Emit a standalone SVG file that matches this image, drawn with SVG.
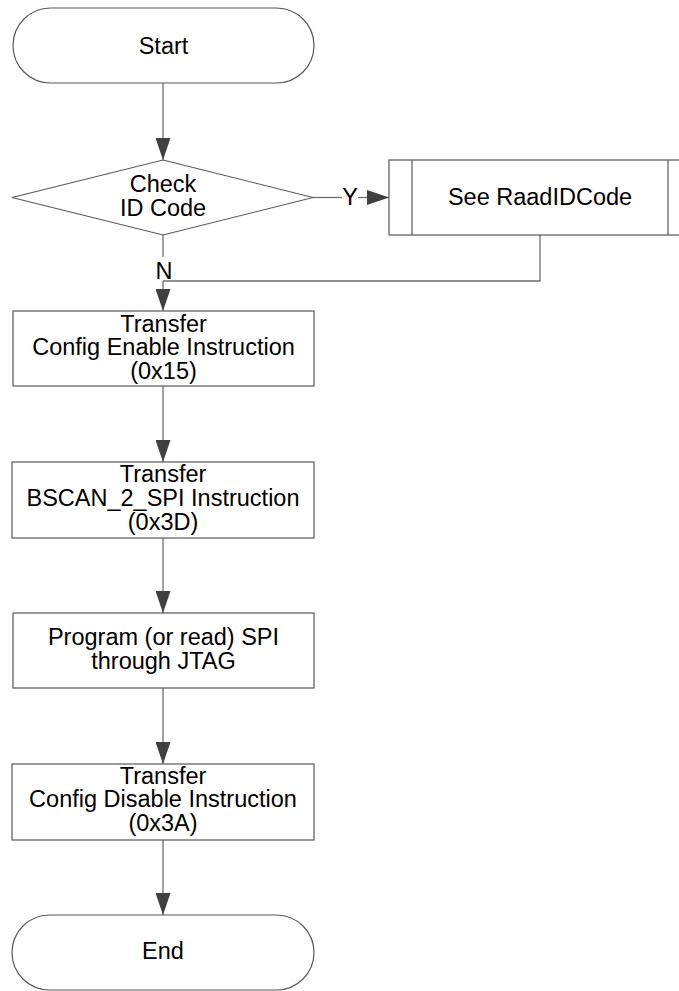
<svg xmlns="http://www.w3.org/2000/svg" width="679" height="991" viewBox="0 0 679 991">
<style>
.node{fill:#fff;stroke:#595959;stroke-width:1.2}
.conn{fill:none;stroke:#6e6e6e;stroke-width:1.3}
.t{font-family:"Liberation Sans",Arial,sans-serif;font-size:23.5px;fill:#000;text-anchor:middle}
</style>
<defs>
<marker id="ah" markerWidth="22" markerHeight="15" refX="22" refY="7.5" orient="auto" markerUnits="userSpaceOnUse">
<path d="M0,0 L22,7.5 L0,15 Z" fill="#404040"/>
</marker>
</defs>
<rect width="679" height="991" fill="#fff"/>
<g id="connectors">
<line class="conn" x1="163" y1="83" x2="163" y2="160" marker-end="url(#ah)"/>
<line class="conn" x1="313" y1="197.5" x2="342" y2="197.5"/>
<line class="conn" x1="358" y1="197.5" x2="389" y2="197.5" marker-end="url(#ah)"/>
<line class="conn" x1="163" y1="235" x2="163" y2="257"/>
<polyline class="conn" points="540,235 540,281 163,281"/>
<line class="conn" x1="163" y1="281" x2="163" y2="311" marker-end="url(#ah)"/>
<line class="conn" x1="163" y1="386" x2="163" y2="462" marker-end="url(#ah)"/>
<line class="conn" x1="163" y1="538" x2="163" y2="613" marker-end="url(#ah)"/>
<line class="conn" x1="163" y1="688" x2="163" y2="764" marker-end="url(#ah)"/>
<line class="conn" x1="163" y1="840" x2="163" y2="915" marker-end="url(#ah)"/>
<text class="t" x="350" y="204.5">Y</text>
<text class="t" x="164" y="278.5">N</text>
</g>
<g id="start">
<rect class="node" x="13" y="8" width="301" height="75" rx="37.5" ry="37.5"/>
<text class="t" x="163.5" y="53.5">Start</text>
</g>
<g id="check">
<polygon class="node" points="163,160 313,197.5 163,235 12,197.5"/>
<text class="t" x="163" y="192">Check</text>
<text class="t" x="163" y="215.5">ID Code</text>
</g>
<g id="see">
<rect class="node" x="389" y="160" width="302" height="75"/>
<line class="node" x1="412" y1="160" x2="412" y2="235"/>
<line class="node" x1="668" y1="160" x2="668" y2="235"/>
<text class="t" x="540" y="205">See RaadIDCode</text>
</g>
<g id="enable">
<rect class="node" x="13" y="311" width="301" height="75"/>
<text class="t" x="163.5" y="331.5">Transfer</text>
<text class="t" x="163.5" y="355">Config Enable Instruction</text>
<text class="t" x="163.5" y="378.5">(0x15)</text>
</g>
<g id="bscan">
<rect class="node" x="12" y="462" width="302" height="76"/>
<text class="t" x="163" y="482">Transfer</text>
<text class="t" x="163" y="505.5">BSCAN_2_SPI Instruction</text>
<text class="t" x="163" y="529.5">(0x3D)</text>
</g>
<g id="program">
<rect class="node" x="13" y="613" width="301" height="75"/>
<text class="t" x="163.5" y="645">Program (or read) SPI</text>
<text class="t" x="163.5" y="668.5">through JTAG</text>
</g>
<g id="disable">
<rect class="node" x="12" y="764" width="302" height="76"/>
<text class="t" x="163" y="783.5">Transfer</text>
<text class="t" x="163" y="807">Config Disable Instruction</text>
<text class="t" x="163" y="831">(0x3A)</text>
</g>
<g id="end">
<rect class="node" x="12" y="915" width="302" height="75" rx="37.5" ry="37.5"/>
<text class="t" x="163" y="959">End</text>
</g>
</svg>
